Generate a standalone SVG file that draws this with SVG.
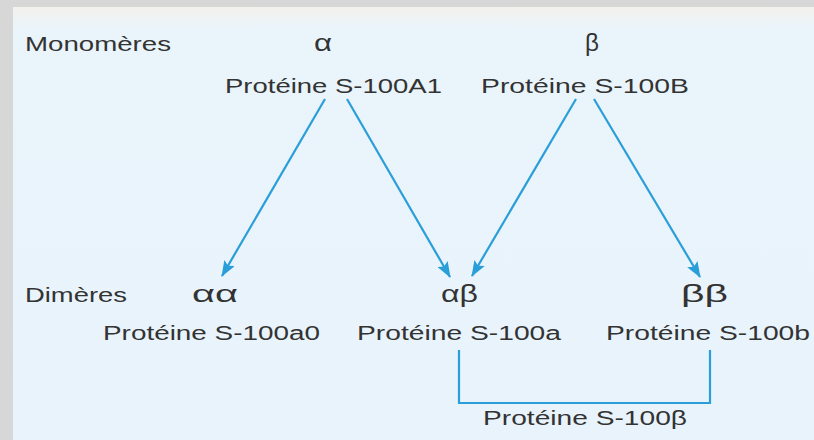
<svg xmlns="http://www.w3.org/2000/svg" width="814" height="440" viewBox="0 0 814 440">
<defs>
<linearGradient id="bg" x1="0" y1="0" x2="0" y2="1">
<stop offset="0" stop-color="#f3f1ec"/>
<stop offset="0.05" stop-color="#eaf4fb"/>
<stop offset="1" stop-color="#e8f3fc"/>
</linearGradient>
<marker id="ah" viewBox="0 0 16 12" refX="15" refY="6" markerWidth="16" markerHeight="12" markerUnits="userSpaceOnUse" orient="auto">
<path d="M0,0 L16,6 L0,12 L3,6 Z" fill="#2a9ed8"/>
</marker>
</defs>
<style>
text{font-family:"Liberation Sans","DejaVu Sans",Arial,sans-serif;font-size:20px;fill:#333333}
.g{font-size:23px}
.c{fill:none;stroke:#2a9ed8;stroke-width:2.2}
</style>
<rect x="0" y="0" width="814" height="440" fill="#d7d7d7"/>
<rect x="13" y="7" width="801" height="433" fill="url(#bg)"/>
<g id="row-labels">
<text x="25" y="51" textLength="146" lengthAdjust="spacingAndGlyphs">Monomères</text>
<text x="25" y="302" textLength="102" lengthAdjust="spacingAndGlyphs">Dimères</text>
</g>
<g id="alpha">
<text class="g" x="314" y="51" textLength="18" lengthAdjust="spacingAndGlyphs">α</text>
<text x="225" y="93" textLength="217" lengthAdjust="spacingAndGlyphs">Protéine S-100A1</text>
</g>
<g id="beta">
<text class="g" x="585" y="51" textLength="14" lengthAdjust="spacingAndGlyphs">β</text>
<text x="481" y="93" textLength="208" lengthAdjust="spacingAndGlyphs">Protéine S-100B</text>
</g>
<g id="alpha-alpha">
<text class="g" x="192" y="302" textLength="46" lengthAdjust="spacingAndGlyphs">αα</text>
<text x="103" y="340" textLength="217" lengthAdjust="spacingAndGlyphs">Protéine S-100a0</text>
</g>
<g id="alpha-beta">
<text class="g" x="441" y="302" textLength="37" lengthAdjust="spacingAndGlyphs">αβ</text>
<text x="357" y="340" textLength="204" lengthAdjust="spacingAndGlyphs">Protéine S-100a</text>
</g>
<g id="beta-beta">
<text class="g" x="681" y="302" textLength="47" lengthAdjust="spacingAndGlyphs">ββ</text>
<text x="606" y="340" textLength="204" lengthAdjust="spacingAndGlyphs">Protéine S-100b</text>
</g>
<g id="s100beta">
<text x="483" y="425" textLength="204" lengthAdjust="spacingAndGlyphs">Protéine S-100β</text>
</g>
<g id="connectors">
<path class="c" d="M325,99 L222,276" marker-end="url(#ah)"/>
<path class="c" d="M347,99 L450,277" marker-end="url(#ah)"/>
<path class="c" d="M576,99 L472,276" marker-end="url(#ah)"/>
<path class="c" d="M594,99 L700,277" marker-end="url(#ah)"/>
<path class="c" d="M459,350 L459,403 L710,403 L710,350"/>
</g>
</svg>
